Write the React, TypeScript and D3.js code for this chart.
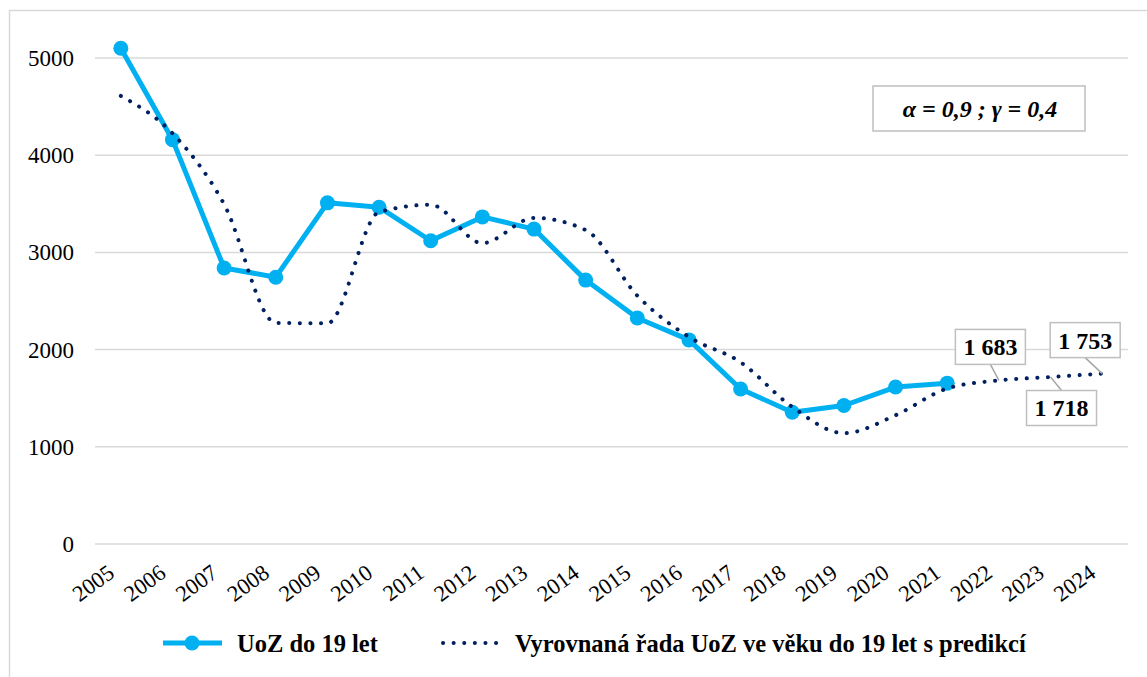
import React from "react";
import * as d3 from "d3";

const years = ["2005","2006","2007","2008","2009","2010","2011","2012","2013","2014","2015","2016","2017","2018","2019","2020","2021","2022","2023","2024"];
const actual = [5100,4160,2840,2745,3510,3465,3120,3365,3240,2715,2325,2100,1595,1355,1425,1615,1655];
const smoothed = [4610,4225,3495,2275,2270,3415,3490,3095,3355,3230,2555,2130,1870,1410,1140,1325,1600,1683,1718,1753];
const yTicks = [0,1000,2000,3000,4000,5000];
const seriesNames = ["UoZ do 19 let","Vyrovnaná řada UoZ ve věku do 19 let s predikcí"];
const labelIdx = [17,18,19];
const annotation = "α = 0,9 ; γ = 0,4";

const BLUE = "#00B0F0";
const NAVY = "#002060";
const GRID = "#d9d9d9";
const FONT = "'Liberation Serif', 'Times New Roman', serif";

const fmt = (v: number) => {
  const s = String(v);
  return s.length > 3 ? s.slice(0, s.length - 3) + " " + s.slice(-3) : s;
};

export default function App() {
  const W = 1147, H = 677;
  const x = d3.scaleBand<string>().domain(years).range([95, 1128]);
  const cx = (i: number) => (x(years[i]) as number) + x.bandwidth() / 2;
  const y = d3.scaleLinear().domain([0, 5000]).range([544, 58]);

  const lineA = d3.line<number>().x((_, i) => cx(i)).y((d) => y(d));
  const lineS = d3.line<number>().x((_, i) => cx(i)).y((d) => y(d)).curve(d3.curveMonotoneX);

  const labelOffsets: [number, number][] = [[-8.5, -33.5], [11, 31], [-17, -33.5]];

  return (
    <svg width={W} height={H} style={{ position: "absolute", left: 0, top: 0 }} fontFamily={FONT}>
      <rect x={0} y={0} width={W} height={H} fill="#fff" />
      <rect x={9.5} y={10.5} width={1140} height={700} fill="#fff" stroke={GRID} strokeWidth={1.5} />
      {yTicks.map((t) => (
        <g key={t}>
          <line x1={95} x2={1128} y1={y(t)} y2={y(t)} stroke={GRID} strokeWidth={1.5} />
          <text x={74} y={y(t)} dy="0.35em" textAnchor="end" fontSize={23} fill="#000">{t}</text>
        </g>
      ))}
      {years.map((yr, i) => (
        <text key={yr} transform={`translate(${cx(i) - 5},${576}) rotate(-36)`} textAnchor="end" fontSize={22.5} fill="#000">{yr}</text>
      ))}
      <path d={lineA(actual) || ""} fill="none" stroke={BLUE} strokeWidth={5} strokeLinejoin="round" />
      {actual.map((v, i) => (
        <circle key={i} cx={cx(i)} cy={y(v)} r={7.5} fill={BLUE} />
      ))}
      <path d={lineS(smoothed) || ""} fill="none" stroke={NAVY} strokeWidth={4} strokeDasharray="0.1 10.5" strokeLinecap="round" />
      {labelIdx.map((idx, k) => {
        const px = cx(idx), py = y(smoothed[idx]);
        const [dx, dy] = labelOffsets[k];
        const bx = px + dx, by = py + dy;
        const bw = 70, bh = 35;
        const above = dy < 0;
        return (
          <g key={idx}>
            <line x1={px} y1={py} x2={bx} y2={above ? by + bh / 2 : by - bh / 2} stroke="#a6a6a6" strokeWidth={1.5} />
            <rect x={bx - bw / 2} y={by - bh / 2} width={bw} height={bh} fill="#fff" stroke="#bfbfbf" strokeWidth={1.5} />
            <text x={bx} y={by} dy="0.35em" textAnchor="middle" fontSize={24} fontWeight="bold" fill="#000">{fmt(smoothed[idx])}</text>
          </g>
        );
      })}
      <rect x={873} y={86} width={212} height={45} fill="#fff" stroke="#bfbfbf" strokeWidth={1.5} />
      <text x={980} y={109} dy="0.35em" textAnchor="middle" fontSize={24} fontWeight="bold" fontStyle="italic" fill="#000">{annotation}</text>
      <g>
        <line x1={163} x2={222} y1={643} y2={643} stroke={BLUE} strokeWidth={5} />
        <circle cx={192} cy={643} r={7.5} fill={BLUE} />
        <text x={237} y={643} dy="0.35em" fontSize={24.5} fontWeight="bold" fill="#000">{seriesNames[0]}</text>
        <line x1={443} x2={506} y1={643} y2={643} stroke={NAVY} strokeWidth={4} strokeDasharray="0.1 10.5" strokeLinecap="round" />
        <text x={515} y={643} dy="0.35em" fontSize={24.5} fontWeight="bold" fill="#000">{seriesNames[1]}</text>
      </g>
    </svg>
  );
}
